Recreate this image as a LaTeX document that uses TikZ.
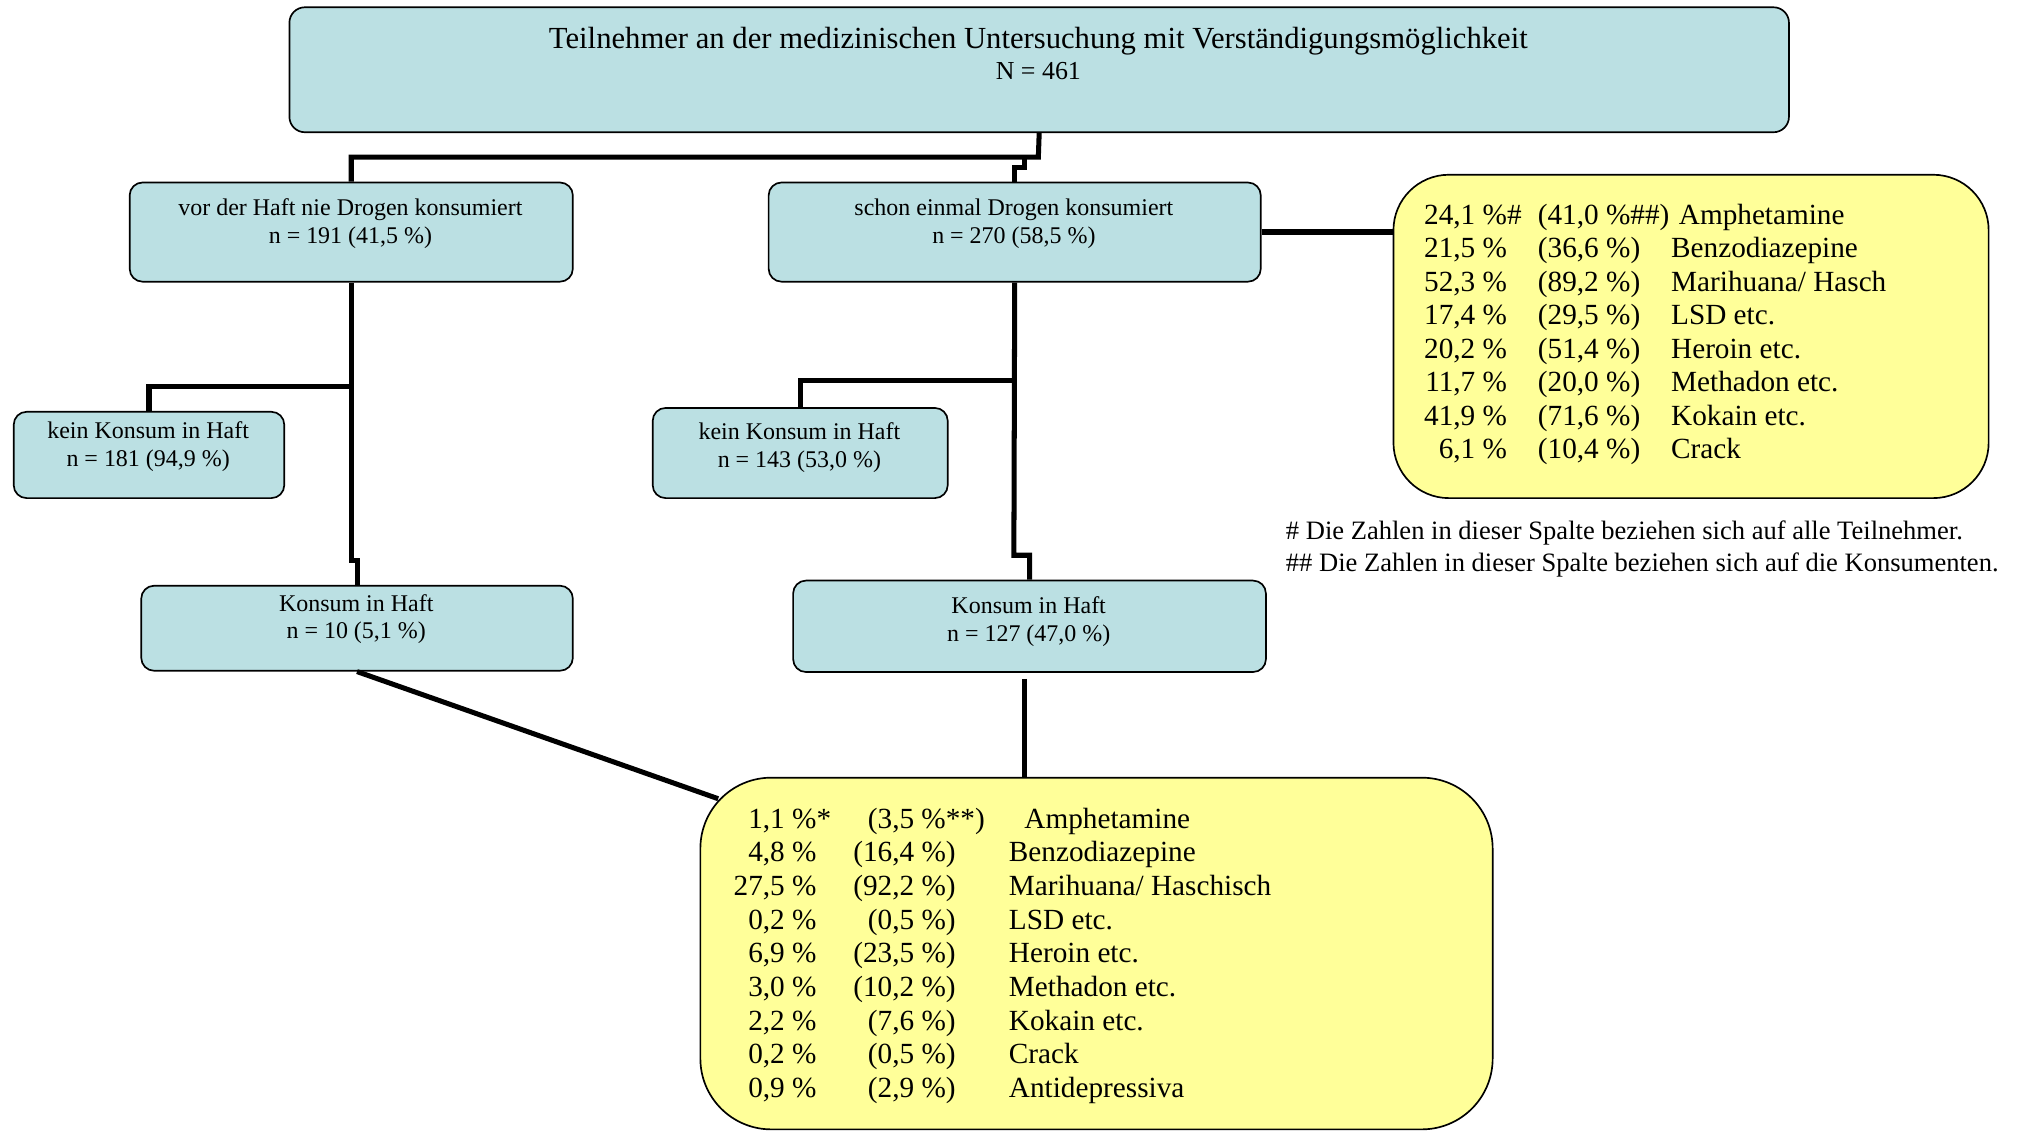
\documentclass[tikz,border=0pt]{standalone}
\usepackage{fontspec}
\setmainfont{Liberation Serif}
\definecolor{boxblue}{RGB}{187,224,227}
\definecolor{boxyellow}{RGB}{255,255,153}

% one row of a drug table: name, baseline y, x of col 1 (right), col 2 (right), col 3 (left), texts
\newcommand{\drugrow}[8]{%
  \node[bigtxt, anchor=base east] (#1a) at (#3,#2) {#6};
  \node[bigtxt, anchor=base east] (#1b) at (#4,#2) {#7};
  \node[bigtxt, anchor=base west] (#1c) at (#5,#2) {#8};}

\begin{document}
\begin{tikzpicture}[x=1pt, y=-1pt,
  bluebox/.style={draw=black, line width=1.3pt, fill=boxblue, rounded corners=10pt,
    inner sep=0pt, anchor=north west},
  yellowbox/.style={draw=black, line width=1.3pt, fill=boxyellow, inner sep=0pt,
    anchor=north west},
  link/.style={draw=black, line width=3.9pt, line join=miter},
  smalltxt/.style={font=\fontsize{18.6}{22}\selectfont, inner sep=0pt, anchor=base},
  titletxt/.style={font=\fontsize{23.8}{27}\selectfont, inner sep=0pt, anchor=base},
  bigtxt/.style={font=\fontsize{22.7}{26}\selectfont, inner sep=0pt},
  notetxt/.style={font=\fontsize{20.6}{25}\selectfont, inner sep=0pt, anchor=base west}]

\useasboundingbox (0,0) rectangle (1568,878);

% boxes
\node[bluebox, rounded corners=12pt, minimum width=1164, minimum height=97] (top) at (224,5) {};
\node[bluebox, minimum width=344, minimum height=77] (A) at (100,141) {};
\node[bluebox, minimum width=382, minimum height=77] (B) at (596,141) {};
\node[bluebox, minimum width=210, minimum height=67] (C) at (10,319) {};
\node[bluebox, minimum width=229, minimum height=70] (D) at (506,316) {};
\node[bluebox, minimum width=335, minimum height=66] (E) at (109,454) {};
\node[bluebox, minimum width=367, minimum height=71] (F) at (615,450) {};
\node[yellowbox, rounded corners=43pt, minimum width=462, minimum height=251] (Y1) at (1081,135) {};
\node[yellowbox, rounded corners=55pt, minimum width=615, minimum height=273] (Y2) at (543,603) {};

% connectors
\coordinate (hub) at (806,122);
\coordinate (stepB) at (795.5,130);
\coordinate (brA) at (0,300);
\coordinate (jogE) at (272.5,435);
\coordinate (brB) at (0,295);
\coordinate (jogF) at (787,431);
\coordinate (diagEnd) at (557.5,620);
\coordinate (fgap) at (795,527);

\draw[link] (top.south) -- (hub) -- (A.north |- hub) -- (A.north);
\draw[link] (stepB |- hub) -- (stepB) -- (B.north |- stepB) -- (B.north);
\draw[link] (A.south |- brA) -- (C.north |- brA) -- (C.north);
\draw[link] (jogE |- A.south) -- (jogE) -- (E.north |- jogE) -- (E.north);
\draw[link] (B.south |- brB) -- (D.north |- brB) -- (D.north);
\draw[link] (B.south) -- (jogF) -- (F.north |- jogF) -- (F.north);
\draw[link] (E.south) -- (diagEnd);
\draw[link] (fgap) -- (fgap |- Y2.north);
\draw[link, line width=4.7pt] (B.east) -- (B.east -| Y1.west);

% box texts
\node[titletxt] (t1) at (806,38) {Teilnehmer an der medizinischen Untersuchung mit Verständigungsmöglichkeit};
\node[titletxt, font=\fontsize{20.1}{24}\selectfont] (t2) at (806,61.5) {N = 461};
\node[smalltxt] (a1) at (272,167) {vor der Haft nie Drogen konsumiert};
\node[smalltxt] (a2) at (272,189) {n = 191 (41,5 \%)};
\node[smalltxt] (b1) at (787,167) {schon einmal Drogen konsumiert};
\node[smalltxt] (b2) at (787,189) {n = 270 (58,5 \%)};
\node[smalltxt] (c1) at (115,340) {kein Konsum in Haft};
\node[smalltxt] (c2) at (115,362) {n = 181 (94,9 \%)};
\node[smalltxt] (d1) at (620.5,341) {kein Konsum in Haft};
\node[smalltxt] (d2) at (620.5,363) {n = 143 (53,0 \%)};
\node[smalltxt] (e1) at (276.5,475) {Konsum in Haft};
\node[smalltxt] (e2) at (276.5,496) {n = 10 (5,1 \%)};
\node[smalltxt] (f1) at (798.5,476) {Konsum in Haft};
\node[smalltxt] (f2) at (798.5,498) {n = 127 (47,0 \%)};

% drug table of all who ever used
\drugrow{p1}{174}{1170}{1265.8}{1303}{24,1 \%\rlap{\#}}{(41,0 \%\rlap{\#\#)}}{Amphetamine}
\drugrow{p2}{200}{1170}{1273.4}{1297}{21,5 \%}{(36,6 \%)}{Benzodiazepine}
\drugrow{p3}{226}{1170}{1273.4}{1297}{52,3 \%}{(89,2 \%)}{Marihuana/ Hasch}
\drugrow{p4}{252}{1170}{1273.4}{1297}{17,4 \%}{(29,5 \%)}{LSD etc.}
\drugrow{p5}{278}{1170}{1273.4}{1297}{20,2 \%}{(51,4 \%)}{Heroin etc.}
\drugrow{p6}{304}{1170}{1273.4}{1297}{11,7 \%}{(20,0 \%)}{Methadon etc.}
\drugrow{p7}{330}{1170}{1273.4}{1297}{41,9 \%}{(71,6 \%)}{Kokain etc.}
\drugrow{p8}{356}{1170}{1273.4}{1297}{6,1 \%}{(10,4 \%)}{Crack}

% footnotes
\node[notetxt] (fn1) at (998,419) {\# Die Zahlen in dieser Spalte beziehen sich auf alle Teilnehmer.};
\node[notetxt] (fn2) at (998,444) {\#\# Die Zahlen in dieser Spalte beziehen sich auf die Konsumenten.};

% drug table of use in prison
\drugrow{q1}{643}{634}{734.4}{795}{1,1 \%\rlap{*}}{(3,5 \%\rlap{**)}}{Amphetamine}
\drugrow{q2}{669.1}{634}{742}{783}{4,8 \%}{(16,4 \%)}{Benzodiazepine}
\drugrow{q3}{695.2}{634}{742}{783}{27,5 \%}{(92,2 \%)}{Marihuana/ Haschisch}
\drugrow{q4}{721.3}{634}{742}{783}{0,2 \%}{(0,5 \%)}{LSD etc.}
\drugrow{q5}{747.4}{634}{742}{783}{6,9 \%}{(23,5 \%)}{Heroin etc.}
\drugrow{q6}{773.5}{634}{742}{783}{3,0 \%}{(10,2 \%)}{Methadon etc.}
\drugrow{q7}{799.6}{634}{742}{783}{2,2 \%}{(7,6 \%)}{Kokain etc.}
\drugrow{q8}{825.7}{634}{742}{783}{0,2 \%}{(0,5 \%)}{Crack}
\drugrow{q9}{851.8}{634}{742}{783}{0,9 \%}{(2,9 \%)}{Antidepressiva}
\end{tikzpicture}
\end{document}
